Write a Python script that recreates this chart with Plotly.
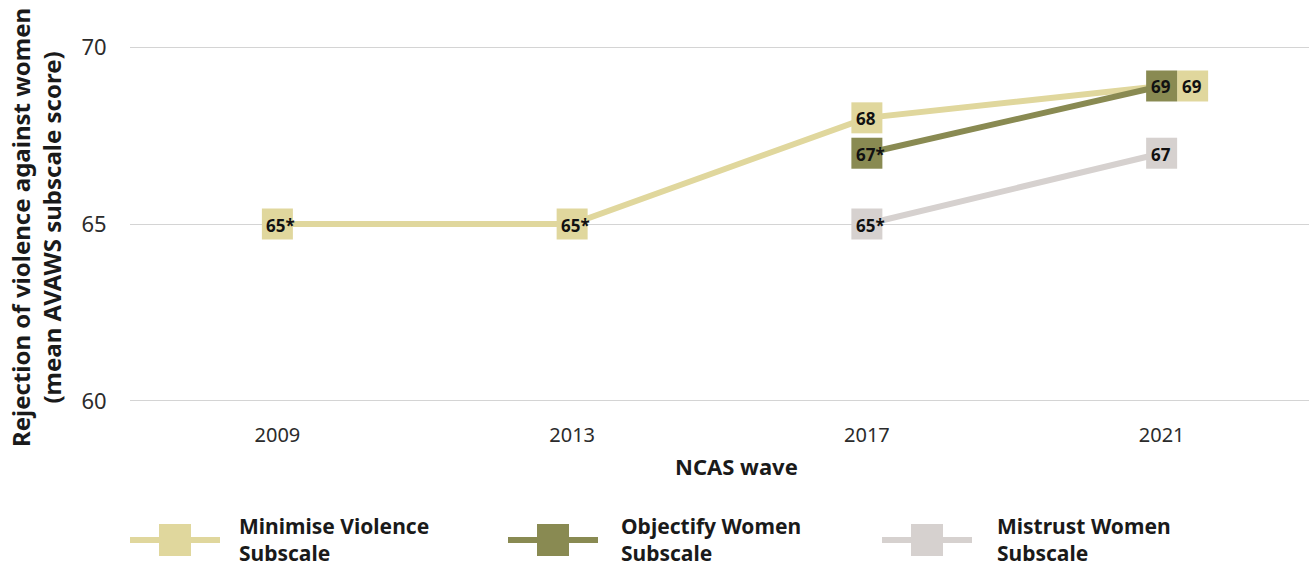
import plotly.graph_objects as go

# ---- data ----
waves = ["2009", "2013", "2017", "2021"]
series_names = ["Minimise Violence<br>Subscale", "Objectify Women<br>Subscale", "Mistrust Women<br>Subscale"]
minimise = [65.0, 65.0, 68.0, 68.9]
minimise_labels = ["65*", "65*", "68", "69"]
objectify = [None, None, 67.0, 68.9]
objectify_labels = ["", "", "67*", "69"]
mistrust = [None, None, 65.0, 67.0]
mistrust_labels = ["", "", "65*", "67"]
y_ticks = [60, 65, 70]

colors = ["#E0D79D", "#898A52", "#D6D1CF"]
series = [(minimise, minimise_labels), (objectify, objectify_labels), (mistrust, mistrust_labels)]
# pixel shift of marker squares (to avoid overlap at 2021)
marker_shift = [[0, 0, 0, 31], [0, 0, 0, 0], [0, 0, 0, 0]]

FONT = "Noto Sans"
W, H = 1309, 567
ML, MR, MT, MB = 130, 0, 46, 165
PW, PH = W - ML - MR, H - MT - MB

fig = go.Figure()
xs = list(range(len(waves)))
for (vals, labs), col in zip(series, colors):
    px = [x for x, v in zip(xs, vals) if v is not None]
    pv = [v for v in vals if v is not None]
    fig.add_trace(go.Scatter(x=px, y=pv, mode="lines", line=dict(color=col, width=6),
                             showlegend=False, hoverinfo="skip"))

shapes = []
annotations = []
S = 15.5
# draw squares: minimise first, then mistrust, then objectify on top
for si in [0, 2, 1]:
    vals, labs = series[si]
    for i, (v, lab) in enumerate(zip(vals, labs)):
        if v is None:
            continue
        dx = marker_shift[si][i]
        shapes.append(dict(type="rect", xref="x", yref="y", xsizemode="pixel", ysizemode="pixel",
                           xanchor=i, yanchor=v, x0=dx - S, x1=dx + S, y0=-S, y1=S,
                           fillcolor=colors[si], line=dict(width=0), layer="above"))
        annotations.append(dict(x=i, y=v, xref="x", yref="y", text="<b>%s</b>" % lab,
                                showarrow=False, xanchor="left", yanchor="middle",
                                xshift=dx - 13, yshift=-1,
                                font=dict(family=FONT, size=17, color="#111111")))

# custom legend
def px2paper_x(p):
    return (p - ML) / PW

def px2paper_y(p):
    return (H - MB - p) / PH

leg_x = [130, 508, 882]
leg_text_x = [237, 619, 995]
leg_y = 540
for lx, tx, col, name in zip(leg_x, leg_text_x, colors, series_names):
    shapes.append(dict(type="line", xref="paper", yref="paper",
                       x0=px2paper_x(lx), x1=px2paper_x(lx + 90),
                       y0=px2paper_y(leg_y), y1=px2paper_y(leg_y),
                       line=dict(color=col, width=6)))
    shapes.append(dict(type="rect", xref="paper", yref="paper",
                       x0=px2paper_x(lx + 29), x1=px2paper_x(lx + 61),
                       y0=px2paper_y(leg_y - 16), y1=px2paper_y(leg_y + 16),
                       fillcolor=col, line=dict(width=0)))
    annotations.append(dict(x=px2paper_x(tx), y=px2paper_y(leg_y - 1), xref="paper", yref="paper",
                            text="<b>%s</b>" % name, showarrow=False, xanchor="left", yanchor="middle",
                            align="left", font=dict(family=FONT, size=21, color="#1a1a1a")))

# y-axis title
annotations.append(dict(x=px2paper_x(36), y=px2paper_y(228), xref="paper", yref="paper",
                        text="<b>Rejection of violence against women<br>(mean AVAWS subscale score)</b>",
                        textangle=-90, showarrow=False, xanchor="center", yanchor="middle",
                        font=dict(family=FONT, size=24, color="#1a1a1a")))
# x-axis title
annotations.append(dict(x=px2paper_x(736), y=px2paper_y(466), xref="paper", yref="paper",
                        text="<b>NCAS wave</b>", showarrow=False, xanchor="center", yanchor="middle",
                        font=dict(family=FONT, size=22, color="#1a1a1a")))

fig.update_layout(
    width=W, height=H,
    margin=dict(l=ML, r=MR, t=MT, b=MB),
    plot_bgcolor="white", paper_bgcolor="white",
    font=dict(family=FONT, color="#2b2b2b"),
    shapes=shapes, annotations=annotations,
    xaxis=dict(range=[-0.5, len(waves) - 0.5], tickvals=xs, ticktext=waves,
               showgrid=False, zeroline=False, showline=False,
               tickfont=dict(size=20, color="#2b2b2b"), ticks="outside", ticklen=15,
               tickcolor="rgba(0,0,0,0)"),
    yaxis=dict(range=[59.97, 70.03], tickvals=y_ticks, showgrid=True, gridcolor="#d4d4d4", gridwidth=1,
               zeroline=False, showline=False,
               tickfont=dict(size=22, color="#2b2b2b"), ticks="outside", ticklen=18,
               tickcolor="rgba(0,0,0,0)"),
)

fig.write_html("out.html", config={"displayModeBar": False},
               post_script="document.body.style.margin='0px';")
